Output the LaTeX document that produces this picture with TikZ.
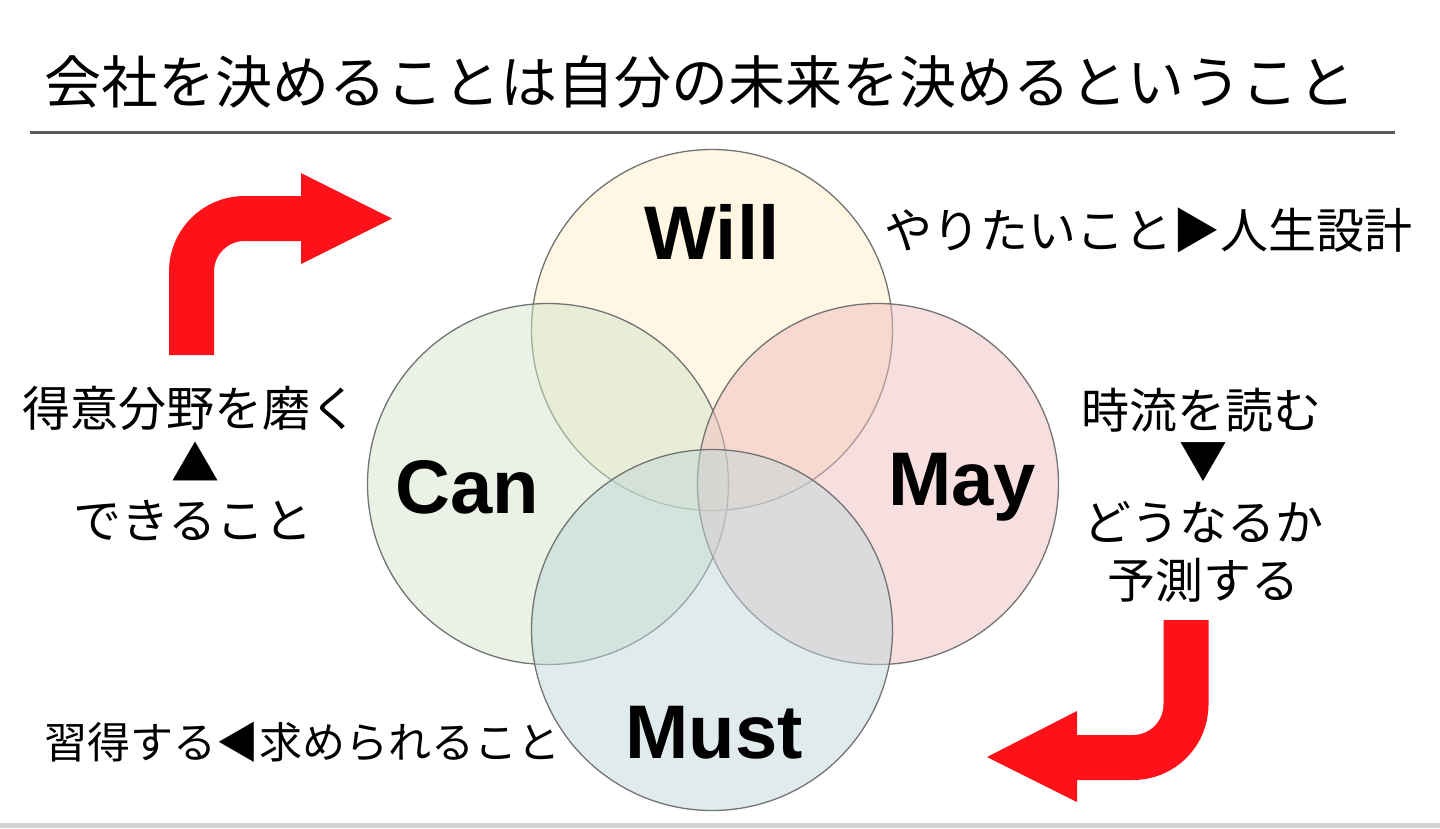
\documentclass[tikz,border=0pt]{standalone}
\usepackage{fontspec}
\setmainfont{Liberation Sans}
\newfontfamily\jpfont{Noto Sans CJK JP}
\usetikzlibrary{positioning}
\definecolor{willfill}{RGB}{255,237,199}
\definecolor{canfill}{RGB}{211,229,201}
\definecolor{mayfill}{RGB}{239,189,191}
\definecolor{mustfill}{RGB}{191,215,217}
\definecolor{arrowred}{RGB}{252,18,24}
\definecolor{rulegray}{RGB}{90,90,90}

\begin{document}
\begin{tikzpicture}[
  x=1pt, y=-1pt,
  venn/.style={circle, draw=black!55, line width=1.3pt, fill opacity=0.5, minimum size=361pt, inner sep=0pt},
  key/.style={font=\fontsize{76}{80}\selectfont\bfseries, inner sep=0pt},
  note/.style={font=\jpfont\fontsize{48}{52}\selectfont, inner sep=0pt},
  bigarrow/.style={draw=arrowred, line width=45pt, rounded corners=53pt},
  arrowhead/.style={fill=arrowred}
]
  \useasboundingbox (0,0) rectangle (1440,828);
  \fill[black!18] (0,823) rectangle (1440,828);

  % Title
  \node[font=\jpfont\fontsize{57}{61}\selectfont, anchor=west, inner sep=0pt] (title) at (44,82) {会社を決めることは自分の未来を決めるということ};
  \draw[rulegray, line width=3pt] (30,132) -- (1395,132);

  % Circles
  \foreach \name/\x/\y/\col in {will/712/330/willfill, can/548/484/canfill, may/878/484/mayfill, must/712/630/mustfill} {
    \node[venn, fill=\col] (\name) at (\x,\y) {};
  }

  % Circle labels
  \node[key] (willlab) at (712,232) {Will};
  \node[key] (canlab) at (467,487) {Can};
  \node[key] (maylab) at (962,487) {May};
  \node[key] (mustlab) at (714,733) {Must};

  % Notes
  \node[note, anchor=west] (wantnote) at (884,230) {やりたいこと▶人生設計};
  \node[note] (trend) at (1201,410) {時流を読む};
  \node[note] (trenddown) at (1203,462) {▼};
  \node[note] (become) at (1203,522) {どうなるか};
  \node[note] (predict) at (1203,580) {予測する};
  \node[note] (polish) at (190,408) {得意分野を磨く};
  \node[note] (polishup) at (195,462) {▲};
  \node[note] (able) at (193,520) {できること};
  \node[note, font=\jpfont\fontsize{43}{47}\selectfont, anchor=west] (learn) at (44,742) {習得する◀求められること};

  % Red arrows
  \coordinate (upstart) at (191.5,355);
  \coordinate (upend) at (302,218.5);
  \draw[bigarrow] (upstart) |- (upend);
  \fill[arrowhead] (301,173) -- (392,218.5) -- (301,264) -- cycle;

  \coordinate (downstart) at (1186,620);
  \coordinate (downend) at (1076,757.5);
  \draw[bigarrow] (downstart) |- (downend);
  \fill[arrowhead] (1077,711) -- (987,757) -- (1077,802) -- cycle;
\end{tikzpicture}
\end{document}
